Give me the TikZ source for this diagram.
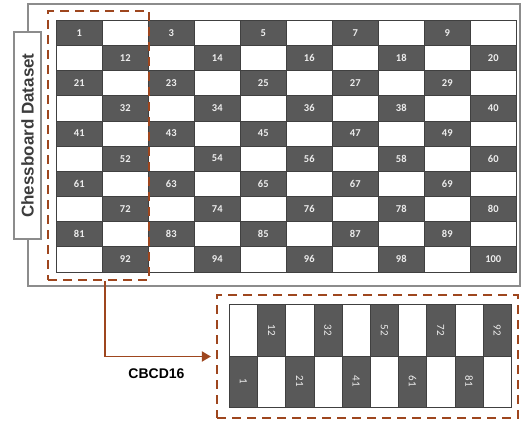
\documentclass[tikz,border=0pt]{standalone}
\usepackage{fontspec}
\usepackage{graphicx}
\setmainfont{Liberation Sans}
\newfontfamily\numfont{Carlito}
\usetikzlibrary{arrows.meta}
\definecolor{brn}{RGB}{158,70,30}
\definecolor{darkcell}{RGB}{89,89,89}
\definecolor{framegray}{RGB}{140,140,140}
\definecolor{labgray}{RGB}{60,60,60}
\begin{document}
\begin{tikzpicture}[x=1pt,y=-1pt,
  bigcell/.style={draw=black!75,line width=0.6pt,minimum width=46pt,minimum height=25.15pt,inner sep=0pt,anchor=north west,font=\numfont\bfseries\fontsize{10.5}{12}\selectfont,text=white!93!black},
  smallcell/.style={draw=black!75,line width=0.6pt,minimum width=28.2pt,minimum height=51.5pt,inner sep=0pt,anchor=north west,font=\numfont\fontsize{11}{12}\selectfont,text=white!93!black},
  selbox/.style={draw=brn,line width=2.2pt,dash pattern=on 9pt off 6pt,inner sep=0pt},
]
\useasboundingbox (0,0) rectangle (524,420);
% outer frame
\node[draw=framegray,line width=2pt,minimum width=492pt,minimum height=282pt,inner sep=0pt] (frame) at (274,145) {};
% side label
\node[draw=framegray,fill=white,line width=1.5pt,minimum width=27pt,minimum height=207pt,inner sep=0pt,text=labgray,font=\bfseries\fontsize{17}{20}\selectfont] (lab) at (27.5,135.5) {\rotatebox{90}{Chessboard Dataset}};
% main grid
\foreach \r in {0,...,9} {
  \foreach \c in {0,...,9} {
    \pgfmathtruncatemacro\n{10*\r+\c+1}
    \pgfmathtruncatemacro\d{mod(\r+\c,2)}
    \ifnum\d=0
      \node[bigcell,fill=darkcell] (t-\r-\c) at ({56+\c*46},{20+\r*25.15}) {\n};
    \else
      \node[bigcell,fill=white] (t-\r-\c) at ({56+\c*46},{20+\r*25.15}) {};
    \fi
  }
}
% selection
\node[selbox,minimum width=101pt,minimum height=269pt] (sel) at (98.5,145.5) {};
% sub grid box
\node[selbox,minimum width=301pt,minimum height=123pt] (sub) at (367.5,356.5) {};
\foreach \c in {0,...,9} {
  \pgfmathtruncatemacro\d{mod(\c,2)}
  \pgfmathtruncatemacro\n{10*\c+2}
  \pgfmathtruncatemacro\m{10*\c+1}
  \ifnum\d=1
    \node[smallcell,fill=darkcell] (s-0-\c) at ({229+\c*28.2},304) {\rotatebox{-90}{\n}};
    \node[smallcell,fill=white] (s-1-\c) at ({229+\c*28.2},355.5) {};
  \else
    \node[smallcell,fill=white] (s-0-\c) at ({229+\c*28.2},304) {};
    \node[smallcell,fill=darkcell] (s-1-\c) at ({229+\c*28.2},355.5) {\rotatebox{-90}{\m}};
  \fi
}
% connector
\draw[brn,line width=1.8pt,-{Triangle[length=9pt,width=10pt]},shorten >=5pt] ([xshift=6.5pt]sel.south) |- (sub.west);
\node[font=\bfseries\fontsize{14}{16}\selectfont] (cbcd) at (156.5,374) {CBCD16};
\end{tikzpicture}
\end{document}
